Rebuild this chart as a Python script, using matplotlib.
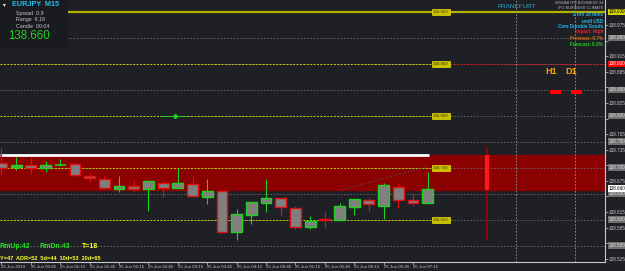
import matplotlib.pyplot as plt
from matplotlib.patches import Rectangle
from matplotlib.transforms import blended_transform_factory

plt.rcParams['font.family'] = ['Liberation Sans', 'DejaVu Sans']

# EURJPY M15, 25 Jun 2014
times = ["00:15", "00:30", "00:45", "01:00", "01:15", "01:30", "01:45", "02:00",
         "02:15", "02:30", "02:45", "03:00", "03:15", "03:30", "03:45", "04:00",
         "04:15", "04:30", "04:45", "05:00", "05:15", "05:30", "05:45", "06:00",
         "06:15", "06:30", "06:45", "07:00", "07:15", "07:30"]
opens = [138.710, 138.702, 138.706, 138.700, 138.705, 138.708, 138.685, 138.679,
         138.660, 138.665, 138.660, 138.671, 138.661, 138.669, 138.644, 138.656,
         138.577, 138.610, 138.633, 138.642, 138.623, 138.586, 138.602, 138.600,
         138.625, 138.638, 138.627, 138.663, 138.638, 138.633]
highs = [138.738, 138.721, 138.721, 138.713, 138.717, 138.710, 138.690, 138.685,
         138.685, 138.677, 138.675, 138.677, 138.700, 138.685, 138.679, 138.658,
         138.621, 138.635, 138.679, 138.642, 138.627, 138.608, 138.615, 138.633,
         138.640, 138.642, 138.671, 138.671, 138.652, 138.692]
lows = [138.686, 138.696, 138.688, 138.692, 138.704, 138.685, 138.673, 138.660,
        138.654, 138.656, 138.617, 138.644, 138.661, 138.646, 138.631, 138.575,
        138.561, 138.592, 138.615, 138.608, 138.583, 138.583, 138.585, 138.600,
        138.610, 138.617, 138.602, 138.623, 138.627, 138.633]
closes = [138.700, 138.706, 138.700, 138.706, 138.706, 138.686, 138.681, 138.661,
          138.665, 138.660, 138.675, 138.661, 138.671, 138.646, 138.656, 138.577,
          138.611, 138.635, 138.642, 138.625, 138.586, 138.598, 138.600, 138.627,
          138.640, 138.631, 138.667, 138.638, 138.633, 138.660]

tick_times = ["00:15", "00:45", "01:15", "01:45", "02:15", "02:45", "03:15", "03:45",
              "04:15", "04:45", "05:15", "05:45", "06:15", "06:45", "07:15"]
tick_labels = ["25 Jun 2014", "25 Jun 00:45", "25 Jun 01:15", "25 Jun 01:45",
               "25 Jun 02:15", "25 Jun 02:45", "25 Jun 03:15", "25 Jun 03:45",
               "25 Jun 04:15", "25 Jun 04:45", "25 Jun 05:15", "25 Jun 05:45",
               "25 Jun 06:15", "25 Jun 06:45", "25 Jun 07:15"]

price_ticks = [138.525, 138.555, 138.585, 138.615, 138.645, 138.675, 138.705, 138.735,
               138.765, 138.795, 138.825, 138.855, 138.885, 138.915, 138.945, 138.975]
grid_levels = [138.550, 138.650, 138.750, 138.850, 138.950]
round_levels = [138.600, 138.700, 138.800, 138.900]
big_level = 139.000
sell_zone = (138.657, 138.725)
last_price = 138.660
session_times = ["09:00", "10:00"]
news_time = "08:30"
tf_names = ["H1", "D1"]
tf_signal = [138.846, 138.846]
trend_a = ([14.7, 17.2], [138.600, 138.617])
trend_b = ([23.2, 29.15], [138.658, 138.704])
marker_level = 138.800

BG = '#1f2026'
GREEN = '#1ed21e'
RED = '#e01010'


def idx(t):
    h, m = t.split(":")
    return (int(h) * 60 + int(m) - 15) / 15


def px(x, y):
    return x / 625, 1 - y / 271


fig = plt.figure(figsize=(6.25, 2.71), dpi=100, facecolor=BG)
ax = fig.add_axes([0, 9 / 271, 605 / 625, 262 / 271], facecolor=BG)
ax.set_xlim(-0.1, 41.06)
ax.set_ylim(138.519, 139.023)

# zone
ax.axhspan(sell_zone[0], sell_zone[1], color='#8b0000', zorder=1)
ax.hlines(sell_zone[1], -0.1, 29.1, color='white', lw=2, zorder=3)

# grid and levels
for lv in grid_levels + round_levels:
    ax.axhline(lv, color='#6a6a6a', lw=0.6, ls=(0, (2, 2)), zorder=2)
for lv in round_levels:
    ax.hlines(lv, -0.1, 29.3, color='#c8c800', lw=0.7, ls=(0, (2, 1.5)), zorder=2)
ax.hlines(round_levels[-1], 30.7, 41.06, color='#e01010', lw=0.7, ls=(0, (2, 1.5)), zorder=2)
ax.axhline(big_level, color='#b4b400', lw=1.6, zorder=2)
for lv in round_levels + [big_level]:
    ax.text(29.35, lv, "%.3f" % lv, fontsize=3.2, color='#404000', va='center', ha='left',
            zorder=6, bbox=dict(boxstyle='square,pad=0.25', fc='#c8c000', ec='#e8e000', lw=0.5))

for t in session_times:
    ax.axvline(idx(t), color='#9a9a9a', lw=0.6, ls=(0, (2, 2)), zorder=2)

# news bar
ax.vlines(idx(news_time), 138.561, 138.740, color='#a00000', lw=1.2, zorder=3)
ax.vlines(idx(news_time), sell_zone[0], sell_zone[1], color='#ff1a1a', lw=3, zorder=3)

# trend dots
ax.plot(*trend_a, color='#555555', lw=0.8, ls=':', zorder=3)
ax.plot(*trend_b, color='#555555', lw=0.8, ls=':', zorder=3)
ax.plot([10.9, 12.6], [marker_level, marker_level], color=GREEN, lw=0.7, zorder=3)
ax.plot([11.8], [marker_level], marker='D', ms=2, color=GREEN, zorder=4)

# candles
for i, t in enumerate(times):
    x = idx(t)
    o, h, l, c = opens[i], highs[i], lows[i], closes[i]
    col = GREEN if c >= o else RED
    ax.vlines(x, l, h, color=col, lw=0.8, zorder=4)
    lo, hi = min(o, c), max(o, c)
    if hi - lo < 0.002:
        ax.hlines((o + c) / 2, x - 0.37, x + 0.37, color=col, lw=1.2, zorder=5)
    else:
        ax.add_patch(Rectangle((x - 0.37, lo), 0.74, hi - lo, fc='#808080', ec=col,
                               lw=1.0, zorder=5))

# H1 / D1 signals
for k, name in enumerate(tf_names):
    xs = idx(session_times[0]) + 2.7 + 1.4 * k
    ax.bar(xs, 0.009, bottom=tf_signal[k] - 0.0045, width=0.75, color='#ff0000', zorder=5)
    ax.text(xs - 0.32, 138.885, name, color='#ffa500', fontsize=6.5, fontweight='bold',
            ha='center', va='center', zorder=6)

# axes
for s in ['top', 'left']:
    ax.spines[s].set_visible(False)
for s in ['right', 'bottom']:
    ax.spines[s].set_color('#c8c8c8')
    ax.spines[s].set_linewidth(0.8)

boxes = [(big_level, '#d4d400', 'black'), (138.950, '#707070', '#e0e0e0'),
         (138.900, '#ff0000', 'white'), (138.850, '#707070', '#e0e0e0'),
         (138.800, '#707070', '#e0e0e0'), (138.750, '#707070', '#e0e0e0'),
         (138.700, '#707070', '#e0e0e0'), (138.650, '#707070', '#e0e0e0'),
         (138.600, '#707070', '#e0e0e0'), (138.550, '#707070', '#e0e0e0'),
         (last_price, 'white', 'black')]

ax.yaxis.tick_right()
ax.set_yticks(price_ticks)
labels = []
for p in price_ticks:
    hidden = any(abs(p - b[0]) < 0.008 for b in boxes)
    labels.append("" if hidden else "%.3f" % p)
ax.set_yticklabels(labels)
ax.tick_params(axis='y', colors='#c8c8c8', labelsize=3.3, length=2, width=0.5, pad=1)
ax.set_xticks([idx(t) for t in tick_times])
ax.set_xticklabels(tick_labels, ha='left')
ax.tick_params(axis='x', colors='#c8c8c8', labelsize=3.2, length=2, width=0.5, pad=0.5)

tr = blended_transform_factory(ax.transAxes, ax.transData)
for p, fc, tc in boxes:
    ax.text(1.006, p, "%.3f" % p, transform=tr, fontsize=3.3, color=tc, ha='left',
            va='center', clip_on=False, zorder=7,
            bbox=dict(boxstyle='square,pad=0.2', fc=fc, ec='none'))

# info panel
fig.patches.append(Rectangle(px(0, 48), 68 / 625, 48 / 271, transform=fig.transFigure,
                             fc='#1a1b20', ec='none', zorder=5))
fig.text(*px(3, 5), "\u25be", color='white', fontsize=4, va='center', zorder=6)
fig.text(*px(12, 5), "EURJPY  M15", color='#1ec3f0', fontsize=5.2, fontweight='bold', va='center', zorder=6)
fig.text(*px(16, 14), "Spread  0.9", color='#c8c8c8', fontsize=3.8, va='center', zorder=6)
fig.text(*px(16, 20), "Range  6.18", color='#c8c8c8', fontsize=3.8, va='center', zorder=6)
fig.text(*px(16, 27), "Candle  00:04", color='#c8c8c8', fontsize=3.8, va='center', zorder=6)
fig.text(*px(8, 36), "%.3f" % last_price, color='#22d022', fontsize=8.3, va='center', zorder=6)

# bottom-left stats
fig.text(*px(0, 246), "RmUp:42", color='#22e022', fontsize=5, fontweight='bold', va='center')
fig.text(*px(40, 246), "RmDn:43", color='#22e022', fontsize=5, fontweight='bold', va='center')
fig.text(*px(82, 246), "T=18", color='#ffff22', fontsize=5, fontweight='bold', va='center')
fig.text(*px(0, 258), "Y=47  ADR=52  5d=44  10d=53  20d=65", color='#ffff22', fontsize=4,
         fontweight='bold', va='center')

# news panel
fig.text(*px(497, 6), "FRANKFURT", color='#28a8cc', fontsize=4.6, va='center')
fig.text(*px(603, 3), "WUKAB IFO BUSINESS 34", color='#b8b8b8', fontsize=2.8, ha='right', va='center')
fig.text(*px(603, 8), "IFO BUSINESS CLIMATE", color='#b8b8b8', fontsize=2.8, ha='right', va='center')
news = [("2 hrs 38 mins", '#28b8e8', 15), ("until USD", '#28b8e8', 21),
        ("Core Durable Goods", '#28b8e8', 26), ("Impact: High", '#ff2020', 32),
        ("Previous: 0.7%", '#d07020', 38), ("Forecast: 0.3%", '#22d022', 44)]
for txt, col, yy in news:
    fig.text(*px(603, yy), txt, color=col, fontsize=3.3, fontweight='bold', ha='right', va='center')

fig.savefig('out.png', dpi=100, facecolor=BG)
